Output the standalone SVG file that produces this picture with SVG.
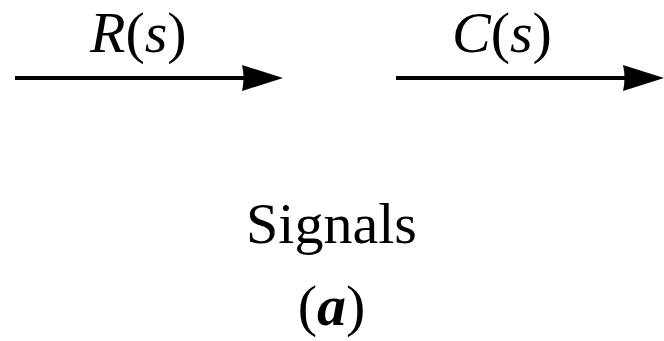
<svg xmlns="http://www.w3.org/2000/svg" width="664" height="341" viewBox="0 0 664 341">
<style>
.t{font-family:"Liberation Serif","Times New Roman",serif;fill:#000;font-size:58px}
.i{font-style:italic}
.ln{stroke:#000;stroke-width:4;fill:none}
</style>
<defs>
<path id="ah" d="M0,0 L-41,-13 Q-38,0 -41,13 Z" fill="#000"/>
</defs>
<rect width="664" height="341" fill="#fff"/>
<g id="connectors">
<line class="ln" x1="15" y1="78" x2="250" y2="78"/>
<use href="#ah" x="283" y="78"/>
<line class="ln" x1="396" y1="78" x2="630" y2="78"/>
<use href="#ah" x="664" y="78"/>
</g>
<g id="label-R">
<text class="t" x="90" y="52"><tspan class="i">R</tspan>(<tspan class="i">s</tspan>)</text>
</g>
<g id="label-C">
<text class="t" x="452" y="52"><tspan class="i">C</tspan>(<tspan class="i">s</tspan>)</text>
</g>
<g id="caption">
<text class="t" x="331.5" y="243" text-anchor="middle">Signals</text>
<text class="t" x="331.5" y="325" text-anchor="middle">(<tspan font-style="italic" font-weight="bold">a</tspan>)</text>
</g>
</svg>
